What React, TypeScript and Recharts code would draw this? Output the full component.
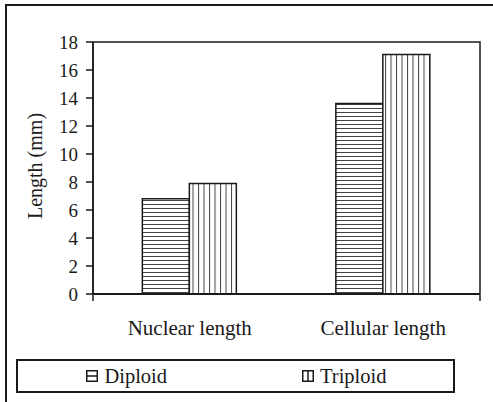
import React from 'react';
import { BarChart, Bar, XAxis, YAxis, ReferenceArea } from 'recharts';

const categories = ['Nuclear length', 'Cellular length'];
const diploid = [6.8, 13.6];
const triploid = [7.9, 17.1];
const yTicks = [0, 2, 4, 6, 8, 10, 12, 14, 16, 18];

const series = [
  { key: 'diploid', name: 'Diploid', fill: 'url(#hstripe)' },
  { key: 'triploid', name: 'Triploid', fill: 'url(#vstripe)' },
];

const data = categories.map((name, i) => ({
  name,
  diploid: diploid[i],
  triploid: triploid[i],
}));

const serif = 'Liberation Serif, serif';
const ink = '#1a1a1a';

// small box icons for the legend
const Swatch = ({ kind }: { kind: string }) => (
  <svg width={12} height={12} style={{ marginRight: 6 }}>
    <rect x={0.75} y={0.75} width={10.5} height={10.5} fill="#fff" stroke={ink} strokeWidth={1.5} />
    {kind === 'diploid' ? (
      <line x1={1} y1={6} x2={11} y2={6} stroke={ink} strokeWidth={1.5} />
    ) : (
      <line x1={6} y1={1} x2={6} y2={11} stroke={ink} strokeWidth={1.5} />
    )}
  </svg>
);

const App = () => {
  return (
    <div style={{ position: 'absolute', left: 0, top: 0, width: 493, height: 402, overflow: 'hidden', background: '#fff', fontFamily: serif }}>
      <svg width={0} height={0} style={{ position: 'absolute' }}>
        <defs>
          <pattern id="hstripe" width={8} height={4} patternUnits="userSpaceOnUse">
            <rect width={8} height={4} fill="#fff" />
            <line x1={0} y1={0.5} x2={8} y2={0.5} stroke="#444" strokeWidth={1} />
          </pattern>
          <pattern id="vstripe" width={5.5} height={8} patternUnits="userSpaceOnUse">
            <rect width={5.5} height={8} fill="#fff" />
            <line x1={0.5} y1={0} x2={0.5} y2={8} stroke="#444" strokeWidth={1} />
          </pattern>
        </defs>
      </svg>

      <div style={{ position: 'absolute', left: 5, top: 4, width: 600, height: 600, border: `2px solid ${ink}` }} />

      <BarChart
        width={493}
        height={402}
        data={data}
        margin={{ top: 42, right: 13, bottom: 106, left: 0 }}
        barCategoryGap="25.5%"
        barGap={0}
        style={{ position: 'absolute', left: 0, top: 0, fontFamily: serif }}
      >
        <ReferenceArea y1={0} y2={18} fill="none" stroke={ink} strokeWidth={1.5} />
        <XAxis
          dataKey="name"
          height={1}
          tickLine={false}
          tickMargin={20}
          interval={0}
          axisLine={{ stroke: ink, strokeWidth: 2 }}
          tick={{ fill: ink, fontSize: 21, fontFamily: serif }}
        />
        {/* boundary ticks between categories */}
        <XAxis
          xAxisId="edges"
          type="number"
          domain={[0, 2]}
          ticks={[0, 1, 2]}
          interval={0}
          height={1}
          tick={() => <g />}
          tickSize={6}
          axisLine={false}
          tickLine={{ stroke: ink, strokeWidth: 1.5 }}
        />
        <YAxis
          width={93}
          domain={[0, 18]}
          ticks={yTicks}
          interval={0}
          tickSize={7}
          tickMargin={8}
          axisLine={{ stroke: ink, strokeWidth: 1.5 }}
          tickLine={{ stroke: ink, strokeWidth: 1.5 }}
          tick={{ fill: ink, fontSize: 19, fontFamily: serif }}
          label={{
            content: () => (
              <text
                x={35}
                y={166}
                transform="rotate(-90 35 166)"
                textAnchor="middle"
                dominantBaseline="central"
                fill={ink}
                fontSize={20}
                fontFamily={serif}
              >
                Length (mm)
              </text>
            ),
          }}
        />
        {series.map((s) => (
          <Bar
            key={s.key}
            dataKey={s.key}
            name={s.name}
            fill={s.fill}
            stroke={ink}
            strokeWidth={1.5}
            isAnimationActive={false}
          />
        ))}
      </BarChart>

      <div
        style={{
          position: 'absolute',
          left: 16,
          top: 359,
          width: 439,
          height: 34,
          boxSizing: 'border-box',
          border: `2px solid ${ink}`,
          display: 'flex',
          alignItems: 'center',
          fontFamily: serif,
          fontSize: 20.5,
          color: ink,
        }}
      >
        {series.map((s) => (
          <div key={s.key} style={{ flex: 1, display: 'flex', justifyContent: 'center', alignItems: 'center' }}>
            <Swatch kind={s.key} />
            <span>{s.name}</span>
          </div>
        ))}
      </div>
    </div>
  );
};

export default App;
